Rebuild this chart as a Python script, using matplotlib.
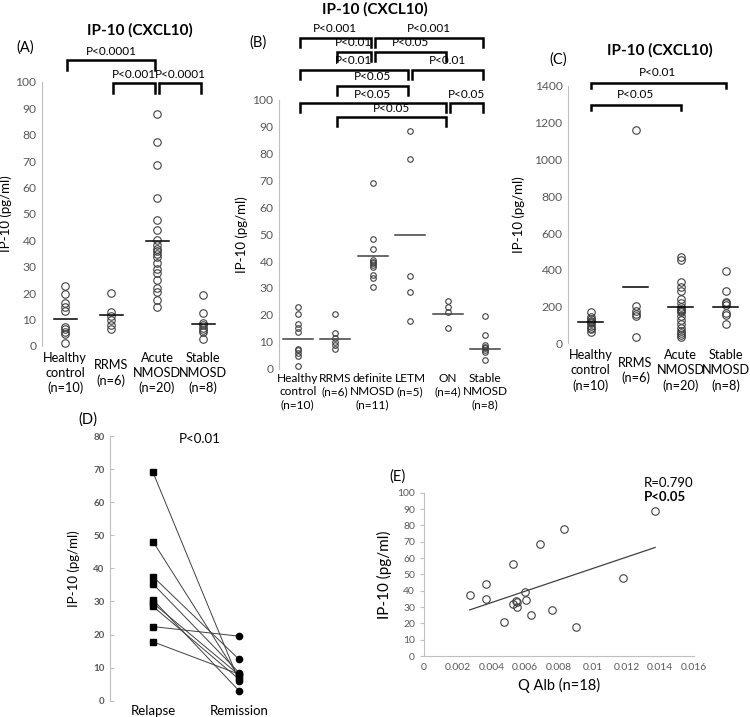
import numpy as np
import matplotlib
matplotlib.use('Agg')
import matplotlib.pyplot as plt
from matplotlib.ticker import FuncFormatter

plt.rcParams['font.family'] = ['Lato', 'DejaVu Sans']

# ---- data ----
# (A) IP-10 by group
a_groups = ['Healthy\ncontrol\n(n=10)', 'RRMS\n(n=6)', 'Acute\nNMOSD\n(n=20)', 'Stable\nNMOSD\n(n=8)']
a_healthy = [22.7, 19.7, 16.4, 14.6, 13.4, 7.2, 6.3, 5.4, 4.6, 1.0]
a_rrms = [20.2, 13.0, 11.3, 9.8, 8.0, 6.5]
a_acute = [88.0, 77.2, 68.5, 56.1, 47.9, 43.9, 40.1, 38.2, 36.6, 36.0,
           34.8, 33.8, 31.3, 29.0, 27.5, 25.0, 21.8, 20.6, 17.4, 14.6]
a_stable = [19.3, 12.4, 8.6, 7.9, 7.0, 6.2, 5.4, 2.6]
a_lines = [10.2, 11.9, 39.8, 8.3]
a_tests = [(0, 2, 0, 'P<0.0001'), (1, 2, 1, 'P<0.001'), (2, 3, 1, 'P<0.0001')]

# (B) subgroups
b_groups = ['Healthy\ncontrol\n(n=10)', 'RRMS\n(n=6)', 'definite\nNMOSD\n(n=11)',
            'LETM\n(n=5)', 'ON\n(n=4)', 'Stable\nNMOSD\n(n=8)']
b_healthy = [22.9, 20.2, 16.4, 15.2, 13.6, 7.4, 6.8, 5.6, 4.7, 1.0]
b_rrms = [20.4, 13.4, 11.5, 10.0, 8.6, 7.3]
b_definite = [69.0, 48.1, 44.4, 40.5, 39.8, 39.2, 38.5, 37.9, 35.0, 33.8, 30.2]
b_letm = [88.6, 77.9, 34.4, 28.4, 17.8]
b_on = [25.3, 22.8, 20.9, 15.0]
b_stable = [19.5, 12.5, 8.6, 8.0, 7.5, 7.0, 6.2, 3.1]
b_lines = [11.0, 11.0, 42.0, 49.6, 20.3, 7.3]
b_tests = [(0, 2, 0, 'P<0.001'), (2, 5, 0, 'P<0.001'),
           (1, 2, 1, 'P<0.01'), (2, 4, 1, 'P<0.05'),
           (0, 3, 2, 'P<0.01'), (3, 5, 2, 'P<0.01'),
           (1, 3, 3, 'P<0.05'),
           (0, 4, 4, 'P<0.05'), (4, 5, 4, 'P<0.05'),
           (1, 4, 5, 'P<0.05')]

# (C)
c_groups = a_groups
c_healthy = [169, 145, 131, 122, 115, 109, 95, 85, 78, 60]
c_rrms = [1160, 205, 175, 158, 150, 36]
c_acute = [469, 455, 333, 309, 287, 242, 218, 196, 187, 182,
           176, 169, 151, 127, 105, 85, 67, 55, 45, 33]
c_stable = [391, 287, 227, 218, 209, 164, 155, 105]
c_lines = [118, 304, 196, 196]
c_tests = [(0, 3, 0, 'P<0.01'), (0, 2, 1, 'P<0.05')]

# (D) paired relapse / remission
d_labels = ['Relapse', 'Remission']
d_relapse = [69.0, 48.1, 37.5, 35.3, 30.5, 29.5, 28.5, 22.4, 17.8]
d_remission = [6.0, 7.1, 12.5, 8.5, 3.0, 7.8, 6.5, 19.5, 8.0]

# (E) correlation with Q Alb
e_qalb = [0.0137, 0.00827, 0.00688, 0.00528, 0.0037, 0.00271, 0.0037, 0.00597, 0.00546,
          0.00526, 0.00554, 0.00603, 0.00633, 0.00475, 0.00759, 0.009, 0.01181, 0.0055]
e_ip10 = [89.0, 77.8, 68.8, 56.5, 44.3, 37.6, 34.9, 39.4, 33.7,
          32.0, 30.2, 34.5, 25.1, 21.0, 28.2, 17.6, 48.0, 33.0]
e_fit = [3480, 18.8]   # slope, intercept of trend line

W, H = 750, 717
GRAY = '#595959'
SPINE = '#BFBFBF'


def px(x, y):
    return x / W, 1 - y / H


def axes_px(x0, y0, x1, y1):
    return fig.add_axes([x0 / W, 1 - y1 / H, (x1 - x0) / W, (y1 - y0) / H])


def style(ax, ylim, yticks, fs=8.7):
    ax.set_ylim(*ylim)
    ax.set_yticks(yticks)
    for s in ['top', 'right', 'bottom']:
        ax.spines[s].set_visible(False)
    ax.spines['left'].set_color(SPINE)
    ax.tick_params(axis='y', length=0, labelsize=fs, labelcolor=GRAY, pad=4)
    ax.tick_params(axis='x', length=0)


def dots(ax, groups, lines, half, ms, lcolor='k'):
    for i, vals in enumerate(groups):
        ax.plot([i + 1] * len(vals), vals, 'o', mfc='none', mec='#404040', ms=ms, mew=0.8, clip_on=False)
        ax.plot([i + 1 - half, i + 1 + half], [lines[i], lines[i]], color=lcolor, lw=1.1)


def brackets(ax, tests, levels, tick, tdy, fs=8.5, shrink=0.05):
    for i, j, lev, lab in tests:
        x1, x2, y = i + 1 + shrink, j + 1 - shrink, levels[lev]
        ax.plot([x1, x1, x2, x2], [y - tick, y, y, y - tick], color='k', lw=1.8,
                clip_on=False, solid_joinstyle='miter')
        ax.text((x1 + x2) / 2, y + tdy, lab, ha='center', va='center', fontsize=fs)


def xlabels(ax, labels, va, pad, ls, fs):
    ax.set_xticks(np.arange(1, len(labels) + 1))
    ax.set_xticklabels(labels, fontsize=fs, va=va, linespacing=ls)
    ax.tick_params(axis='x', pad=pad)
    ax.set_xlim(0.5, len(labels) + 0.5)


fig = plt.figure(figsize=(W / 100, H / 100), dpi=100)

# ---- (A) ----
ax = axes_px(42, 82, 226, 346)
style(ax, (0, 100), range(0, 101, 10))
dots(ax, [a_healthy, a_rrms, a_acute, a_stable], a_lines, 0.25, 5.4)
brackets(ax, a_tests, [108.3, 99.6], 3.8, 3.2)
xlabels(ax, a_groups, 'center', 19.5, 1.3, 9.2)
ax.set_ylabel('IP-10 (pg/ml)', fontsize=9.5)
ax.yaxis.set_label_coords(-0.165, 0.5)
fig.text(*px(140, 30), 'IP-10 (CXCL10)', ha='center', va='center', fontsize=11, weight='bold')
fig.text(*px(25, 48), '(A)', ha='center', va='center', fontsize=10.5)

# ---- (B) ----
ax = axes_px(279, 100, 504, 368.5)
style(ax, (0, 100), range(0, 101, 10))
dots(ax, [b_healthy, b_rrms, b_definite, b_letm, b_on, b_stable], b_lines, 0.4, 4.0, lcolor='#404040')
brackets(ax, b_tests, [123.1, 118.0, 111.2, 105.2, 98.8, 93.6], 3.4, 3.4)
xlabels(ax, b_groups, 'top', 3, 1.25, 8.6)
ax.set_ylabel('IP-10 (pg/ml)', fontsize=9.5)
ax.yaxis.set_label_coords(-0.14, 0.5)
fig.text(*px(375, 9), 'IP-10 (CXCL10)', ha='center', va='center', fontsize=11, weight='bold')
fig.text(*px(258, 43), '(B)', ha='center', va='center', fontsize=10.5)

# ---- (C) ----
ax = axes_px(568, 86, 748, 343.3)
style(ax, (0, 1400), range(0, 1401, 200))
dots(ax, [c_healthy, c_rrms, c_acute, c_stable], c_lines, 0.28, 5.4)
brackets(ax, c_tests, [1414, 1296], 27, 60, shrink=0.0)
xlabels(ax, c_groups, 'center', 19.5, 1.3, 9.2)
ax.set_ylabel('IP-10 (pg/ml)', fontsize=9.5)
ax.yaxis.set_label_coords(-0.24, 0.5)
fig.text(*px(660, 50), 'IP-10 (CXCL10)', ha='center', va='center', fontsize=11, weight='bold')
fig.text(*px(558, 60), '(C)', ha='center', va='center', fontsize=10.5)

# ---- (D) ----
ax = axes_px(110, 436, 282, 700.7)
style(ax, (0, 80), range(0, 81, 10), fs=7)
for t in ax.get_yticklabels():
    t.set_fontweight('bold')
ax.tick_params(axis='y', length=3, color=SPINE, direction='in')
for r0, r1 in zip(d_relapse, d_remission):
    ax.plot([1, 2], [r0, r1], color='#404040', lw=0.7)
ax.plot([1] * len(d_relapse), d_relapse, 's', color='k', ms=4.5)
ax.plot([2] * len(d_remission), d_remission, 'o', color='k', ms=4.5)
xlabels(ax, d_labels, 'top', 3, 1.2, 9.5)
ax.set_xlim(0.5, 2.5)
ax.set_ylabel('IP-10 (pg/ml)', fontsize=9.5)
ax.yaxis.set_label_coords(-0.175, 0.5)
fig.text(*px(200, 439), 'P<0.01', ha='center', va='center', fontsize=9.5)
fig.text(*px(88, 420), '(D)', ha='center', va='center', fontsize=10.5)

# ---- (E) ----
ax = axes_px(424, 492.7, 694, 656)
ax.plot(e_qalb, e_ip10, 'o', mfc='none', mec='#404040', ms=5.4, mew=0.8)
xs = np.array([min(e_qalb), max(e_qalb)])
ax.plot(xs, e_fit[0] * xs + e_fit[1], color='#404040', lw=0.9)
ax.set_xlim(0, 0.016)
ax.set_xticks(np.arange(0, 0.0161, 0.002))
ax.xaxis.set_major_formatter(FuncFormatter(lambda v, p: '0' if v == 0 else f'{v:g}'))
ax.set_ylim(0, 100)
ax.set_yticks(range(0, 101, 10))
for s in ['top', 'right']:
    ax.spines[s].set_visible(False)
for s in ['left', 'bottom']:
    ax.spines[s].set_color(SPINE)
ax.tick_params(axis='both', labelsize=7.5, labelcolor=GRAY)
ax.tick_params(axis='x', length=0, pad=5)
ax.tick_params(axis='y', length=3, color=SPINE, direction='out')
ax.set_xlabel('Q Alb (n=18)', fontsize=10.5)
ax.set_ylabel('IP-10 (pg/ml)', fontsize=11)
ax.yaxis.set_label_coords(-0.12, 0.5)
fig.text(*px(398, 477), '(E)', ha='center', va='center', fontsize=10.5)
fig.text(*px(644, 483), 'R=0.790', ha='left', va='center', fontsize=9.5)
fig.text(*px(644, 497), 'P<0.05', ha='left', va='center', fontsize=9.5, weight='bold')

fig.savefig('out.png', dpi=100)
